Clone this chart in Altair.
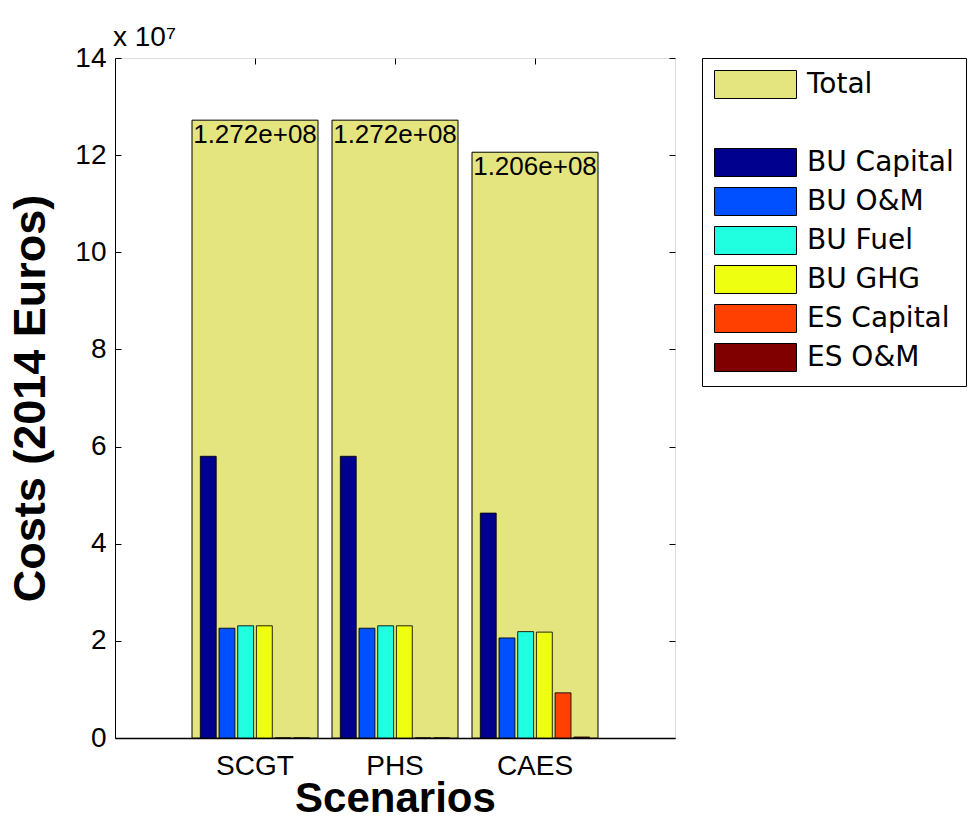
import altair as alt
import pandas as pd

# ---- data ----
scenarios = ["SCGT", "PHS", "CAES"]
components = ["BU Capital", "BU O&M", "BU Fuel", "BU GHG", "ES Capital", "ES O&M"]

totals = [1.272e8, 1.272e8, 1.206e8]
bu_capital = [5.80e7, 5.80e7, 4.63e7]
bu_om = [2.26e7, 2.26e7, 2.06e7]
bu_fuel = [2.31e7, 2.31e7, 2.19e7]
bu_ghg = [2.31e7, 2.31e7, 2.18e7]
es_capital = [0.0, 0.0, 0.93e7]
es_om = [0.0, 0.0, 0.02e7]

y_ticks = [0, 2e7, 4e7, 6e7, 8e7, 10e7, 12e7, 14e7]

legend_domain = ["Total", " "] + components
legend_colors = ["#E5E580", "#FFFFFF", "#00008F", "#0050FF",
                 "#20FFDF", "#EFFF10", "#FF4000", "#800000"]
legend_strokes = ["black", "white", "black", "black",
                  "black", "black", "black", "black"]

# ---- build table ----
series_values = {
    "BU Capital": bu_capital,
    "BU O&M": bu_om,
    "BU Fuel": bu_fuel,
    "BU GHG": bu_ghg,
    "ES Capital": es_capital,
    "ES O&M": es_om,
}
rows = []
for i, s in enumerate(scenarios):
    rows.append({"scenario": s, "series": "Total", "value": totals[i]})
    for c in components:
        rows.append({"scenario": s, "series": c, "value": series_values[c][i]})
df = pd.DataFrame(rows)

FONT = "Liberation Sans"

x_enc = alt.X(
    "scenario:N",
    sort=scenarios,
    scale=alt.Scale(domain=scenarios, paddingInner=0.1, paddingOuter=0.55),
    axis=alt.Axis(
        title="Scenarios",
        labelAngle=0,
        labelFontSize=28,
        labelFont=FONT,
        labelColor="black",
        labelPadding=14,
        ticks=False,
        domainColor="black",
        domainWidth=1.5,
        grid=True,
        gridColor="black",
        gridOpacity=1,
        gridWidth=1,
        gridDash=[6, 668],
        bandPosition=0.5,
        titleFontSize=42,
        titleFont=FONT,
        titleFontWeight="bold",
        titleColor="black",
        titleBaseline="alphabetic",
        titlePadding=31,
    ),
)

y_enc = alt.Y(
    "value:Q",
    scale=alt.Scale(domain=[0, 1.4e8], nice=False, zero=True),
    axis=alt.Axis(
        title="Costs (2014 Euros)",
        values=y_ticks,
        labelExpr="format(datum.value / 1e7, 'd')",
        labelFontSize=28,
        labelFont=FONT,
        labelColor="black",
        labelPadding=9,
        ticks=False,
        domainColor="black",
        domainWidth=1,
        grid=True,
        gridColor="black",
        gridOpacity=1,
        gridWidth=1,
        gridDash=[6, 548],
        titleFontSize=45,
        titleFont=FONT,
        titleFontWeight="bold",
        titleColor="black",
        titleBaseline="alphabetic",
        titlePadding=30,
    ),
)

legend = alt.Legend(
    title=None,
    orient="none",
    legendX=587,
    legendY=0,
    symbolType="M-1,-1H4.857V1H-1Z",
    symbolSize=784,
    symbolStrokeWidth=1,
    symbolOpacity=1,
    labelOffset=64,
    labelFontSize=28,
    labelFont="DejaVu Sans",
    labelColor="black",
    rowPadding=6,
    padding=12,
    strokeColor="black",
    fillColor="white",
)

color_enc = alt.Color(
    "series:N",
    scale=alt.Scale(domain=legend_domain, range=legend_colors),
    legend=legend,
)
stroke_enc = alt.Stroke(
    "series:N",
    scale=alt.Scale(domain=legend_domain, range=legend_strokes),
    legend=legend,
)

base = alt.Chart(df)

total_bars = base.transform_filter("datum.series === 'Total'").mark_bar(
    strokeWidth=1
).encode(x=x_enc, y=y_enc, color=color_enc, stroke=stroke_enc)

comp_bars = base.transform_filter("datum.series !== 'Total'").mark_bar(
    strokeWidth=1, strokeOpacity=0.85
).encode(
    x=x_enc,
    xOffset=alt.XOffset(
        "series:N",
        sort=components,
        scale=alt.Scale(domain=components, paddingInner=0.15, paddingOuter=0.445),
    ),
    y=y_enc,
    color=color_enc,
    stroke=stroke_enc,
)

labels = base.transform_filter("datum.series === 'Total'").transform_calculate(
    label="replace(format(datum.value, '.3e'), 'e+', 'e+0')"
).mark_text(
    baseline="top", align="center", dy=2, fontSize=26, font=FONT, color="black"
).encode(x=x_enc, y=y_enc, text="label:N")

chart = alt.layer(total_bars, comp_bars, labels).properties(
    width=560,
    height=680,
    title=alt.Title(
        "x 10\u2077",
        anchor="start",
        frame="group",
        fontSize=28,
        font=FONT,
        fontWeight="normal",
        color="black",
        offset=-8,
        dx=-2,
    ),
    autosize=alt.AutoSizeParams(type="none"),
    padding={"left": 107, "top": 50, "right": 292, "bottom": 82},
).configure_view(
    stroke="black", strokeWidth=1
).configure(background="white")

chart.save("out.html", embed_options={"renderer": "svg", "actions": False})
